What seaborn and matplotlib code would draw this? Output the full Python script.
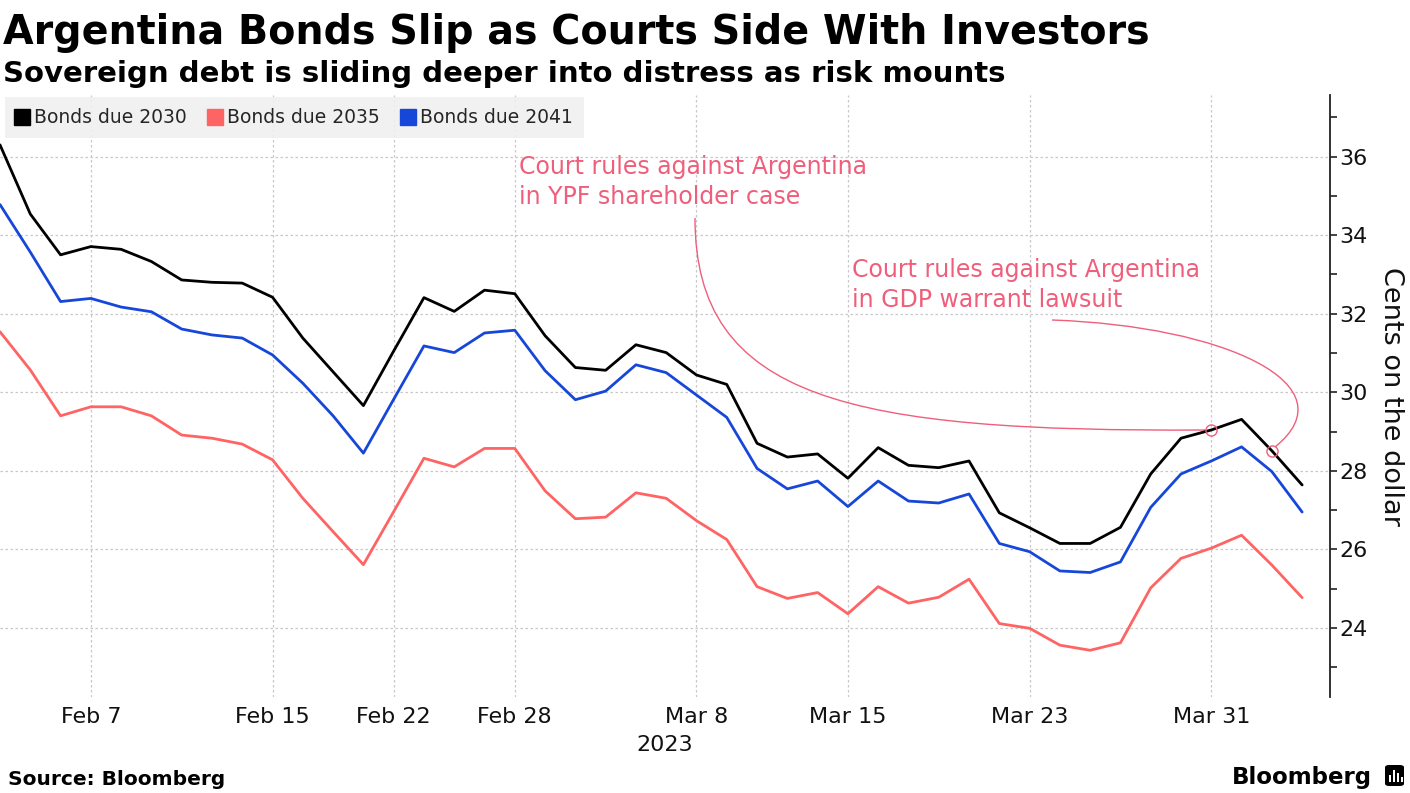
import matplotlib
matplotlib.use("Agg")
import matplotlib.pyplot as plt
from matplotlib.lines import Line2D
from matplotlib.patches import FancyBboxPatch, Rectangle, PathPatch
from matplotlib.path import Path
from matplotlib.ticker import MultipleLocator
import seaborn as sns
import pandas as pd
import numpy as np

# trading days shown on the chart (US holiday Feb 20 skipped)
dates = ["2023-02-02", "2023-02-03", "2023-02-06", "2023-02-07", "2023-02-08", "2023-02-09",
         "2023-02-10", "2023-02-13", "2023-02-14", "2023-02-15", "2023-02-16", "2023-02-17",
         "2023-02-21", "2023-02-22", "2023-02-23", "2023-02-24", "2023-02-27", "2023-02-28",
         "2023-03-01", "2023-03-02", "2023-03-03", "2023-03-06", "2023-03-07", "2023-03-08",
         "2023-03-09", "2023-03-10", "2023-03-13", "2023-03-14", "2023-03-15", "2023-03-16",
         "2023-03-17", "2023-03-20", "2023-03-21", "2023-03-22", "2023-03-23", "2023-03-24",
         "2023-03-27", "2023-03-28", "2023-03-29", "2023-03-30", "2023-03-31", "2023-04-03",
         "2023-04-04", "2023-04-05"]

bonds_2030 = [36.30, 34.54, 33.50, 33.71, 33.64, 33.33, 32.86, 32.80, 32.78, 32.42,
              31.38, 30.52, 29.66, 31.05, 32.41, 32.06, 32.60, 32.51, 31.44, 30.63,
              30.56, 31.21, 31.01, 30.44, 30.20, 28.70, 28.35, 28.43, 27.81, 28.59,
              28.14, 28.08, 28.25, 26.93, 26.55, 26.15, 26.15, 26.56, 27.92, 28.83,
              29.04, 29.31, 28.51, 27.64]
bonds_2035 = [31.54, 30.57, 29.40, 29.63, 29.63, 29.40, 28.91, 28.83, 28.68, 28.28,
              27.30, 26.45, 25.61, 26.96, 28.32, 28.10, 28.57, 28.57, 27.49, 26.78,
              26.82, 27.44, 27.30, 26.73, 26.25, 25.05, 24.75, 24.90, 24.36, 25.05,
              24.63, 24.78, 25.24, 24.11, 23.99, 23.56, 23.43, 23.62, 25.02, 25.77,
              26.03, 26.36, 25.60, 24.77]
bonds_2041 = [34.78, 33.57, 32.31, 32.39, 32.17, 32.05, 31.61, 31.46, 31.38, 30.95,
              30.23, 29.40, 28.45, 29.82, 31.18, 31.01, 31.51, 31.58, 30.55, 29.81,
              30.03, 30.70, 30.50, 29.93, 29.36, 28.06, 27.54, 27.74, 27.09, 27.74,
              27.23, 27.18, 27.41, 26.15, 25.94, 25.45, 25.41, 25.68, 27.07, 27.92,
              28.25, 28.61, 27.98, 26.95]

series_names = ["Bonds due 2030", "Bonds due 2035", "Bonds due 2041"]
colors = ["#000000", "#FF6464", "#1747D9"]
tick_dates = ["2023-02-07", "2023-02-15", "2023-02-22", "2023-02-28",
              "2023-03-08", "2023-03-15", "2023-03-23", "2023-03-31"]
y_ticks = [24, 26, 28, 30, 32, 34, 36]

note_color = "#EF5F7B"
note_ypf = "Court rules against Argentina\nin YPF shareholder case"
note_gdp = "Court rules against Argentina\nin GDP warrant lawsuit"
note_dates = ["2023-03-31", "2023-04-04"]

df = pd.DataFrame({"date": pd.to_datetime(dates), "pos": np.arange(len(dates))})
long = pd.concat([
    df.assign(series=name, value=vals)
    for name, vals in zip(series_names, [bonds_2030, bonds_2035, bonds_2041])
])

sns.set_style("white")
plt.rcParams["font.family"] = ["DejaVu Sans"]

W, H = 1410, 793
fig = plt.figure(figsize=(14.1, 7.93), dpi=100)
ax = fig.add_axes([0.0, 1 - 697 / H, 1330 / W, 602 / H])

sns.lineplot(data=long, x="pos", y="value", hue="series", palette=colors,
             hue_order=series_names, linewidth=2, legend=False, ax=ax)

ax.set_xlim(0, 43.92)
ax.set_ylim(22.24, 37.57)

# axes styling
for side in ["left", "top", "bottom"]:
    ax.spines[side].set_visible(False)
ax.spines["right"].set_color("#222222")
ax.spines["right"].set_linewidth(1.3)
ax.yaxis.tick_right()
ax.yaxis.set_label_position("right")
ax.set_yticks(y_ticks)
ax.yaxis.set_minor_locator(MultipleLocator(1))
ax.tick_params(axis="y", which="both", direction="out", length=5, width=1.2,
               color="#222222", labelsize=16, pad=2, labelcolor="#111111")
tick_pos = [dates.index(d) for d in tick_dates]
ax.set_xticks(tick_pos)
ax.set_xticklabels([pd.Timestamp(d).strftime("%b ") + str(pd.Timestamp(d).day) for d in tick_dates])
ax.tick_params(axis="x", length=0, labelsize=16, pad=7, labelcolor="#111111")
ax.set_xlabel("")
ax.set_ylabel("Cents on the dollar", rotation=270, fontsize=19.5, labelpad=26, color="#111111")
ax.grid(True, which="major", color="#c8c8c8", linestyle=(0, (2, 2)), linewidth=0.9)
ax.set_axisbelow(True)

# legend
handles = [Line2D([], [], marker="s", color=c, linestyle="none", markersize=11) for c in colors]
leg = ax.legend(handles, series_names, loc="upper left", ncol=3, fontsize=13.5,
                frameon=True, fancybox=False, facecolor="#f0f0f0", edgecolor="none",
                framealpha=0.9, handlelength=0.7, handletextpad=0.25, columnspacing=1.2,
                borderpad=0.6, borderaxespad=0.1, bbox_to_anchor=(0.002, 1.0))


def px(x, y):
    # pixel position in the picture -> data coordinates of the axes
    fx = x / (1330 / 43.92)
    fy = 22.24 + (697 - y) / (602 / (37.57 - 22.24))
    return fx, fy


# annotation texts
ax.text(*px(519, 182), note_ypf, color=note_color, fontsize=17, va="center",
        ha="left", linespacing=1.3)
ax.text(*px(852, 285), note_gdp, color=note_color, fontsize=17, va="center",
        ha="left", linespacing=1.3)

# connectors (cubic curves)
curves = [
    [(695, 218), (695, 400), (850, 432), (1206, 430)],
    [(1052, 320), (1225, 326), (1352, 385), (1275, 447)],
]
for pts in curves:
    verts = [px(*p) for p in pts]
    path = Path(verts, [Path.MOVETO, Path.CURVE4, Path.CURVE4, Path.CURVE4])
    ax.add_patch(PathPatch(path, facecolor="none", edgecolor=note_color, lw=1))

note_idx = [dates.index(d) for d in note_dates]
ax.plot(note_idx, [bonds_2030[i] for i in note_idx], linestyle="none", marker="o",
        markersize=8, markerfacecolor="none", markeredgecolor=note_color, markeredgewidth=1)

# titles and footer
fig.text(3 / W, 1 - 44 / H, "Argentina Bonds Slip as Courts Side With Investors",
         fontsize=28.5, fontweight="bold", va="baseline", ha="left", color="#000000")
fig.text(3 / W, 1 - 82 / H, "Sovereign debt is sliding deeper into distress as risk mounts",
         fontsize=21, fontweight="bold", va="baseline", ha="left", color="#000000")
fig.text(665 / W, 1 - 745 / H, "2023", fontsize=16, va="center", ha="center", color="#111111")
fig.text(8 / W, 1 - 785 / H, "Source: Bloomberg", fontsize=14.5, fontweight="bold",
         va="baseline", ha="left", color="#000000")
fig.text(1372 / W, 1 - 784 / H, "Bloomberg", fontsize=16.5, fontweight="bold",
         va="baseline", ha="right", color="#000000")

# small logo mark
fig.patches.append(FancyBboxPatch((1385 / W, 1 - 786 / H), 19 / W, 21 / H,
                                  boxstyle="round,pad=0,rounding_size=0.003",
                                  transform=fig.transFigure, facecolor="#000000",
                                  edgecolor="none"))
for bx, bh in zip([1388.5, 1392.5, 1396.5, 1400.5], [7, 12, 9, 5]):
    fig.patches.append(Rectangle((bx / W, 1 - 782 / H), 2 / W, bh / H,
                                 transform=fig.transFigure, facecolor="white", edgecolor="none"))

fig.savefig("out.png", dpi=100)
